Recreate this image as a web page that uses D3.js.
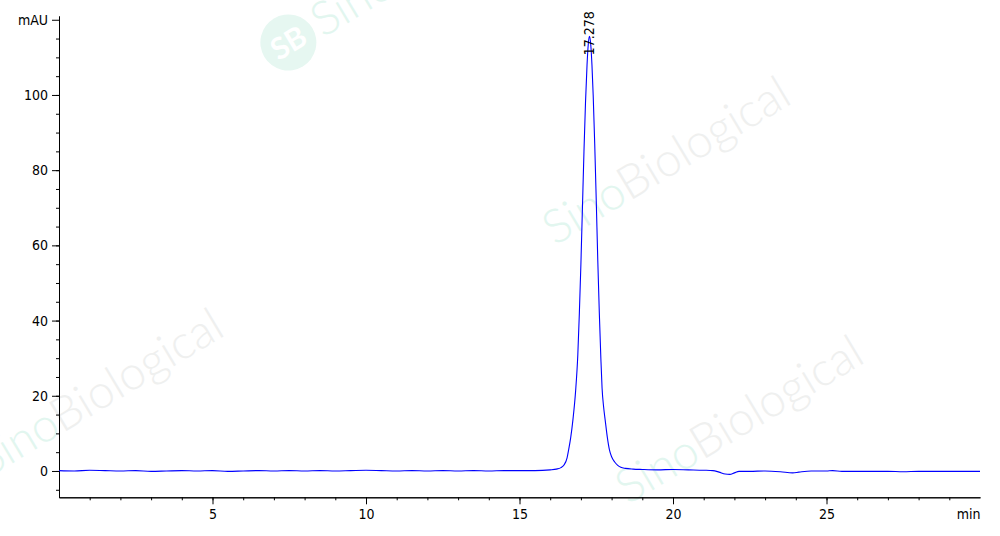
<!DOCTYPE html>
<html>
<head>
<meta charset="utf-8">
<script src="https://cdn.jsdelivr.net/npm/d3@7/dist/d3.min.js"></script>
<style>
  body { margin: 0; background: #fff; }
  svg { display: block; }
  .axis text { font-family: "DejaVu Sans Condensed", "DejaVu Sans", sans-serif; font-stretch: condensed; font-size: 14px; fill: #000; }
  .axis path, .axis line { stroke: #000; }
</style>
</head>
<body>
<div id="chart"></div>
<script>
// retention time (min) and absorbance (mAU)
const times = [0, 0.5, 1, 1.5, 2, 2.5, 3, 3.5, 4, 4.5, 5, 5.5, 6, 6.5, 7, 7.5, 8, 8.5, 9, 9.5,
  10, 10.5, 11, 11.5, 12, 12.5, 13, 13.5, 14, 14.5, 15, 15.5, 16, 16.2, 16.35, 16.45, 16.55, 16.6,
  16.67, 16.74, 16.83, 16.9, 16.95, 17, 17.05, 17.1, 17.15, 17.2, 17.24, 17.278, 17.32, 17.36,
  17.4, 17.45, 17.5, 17.55, 17.6, 17.65, 17.69, 17.74, 17.79, 17.86, 17.93, 18, 18.1, 18.2, 18.3,
  18.45, 18.7, 19, 19.5, 20, 20.5, 21, 21.3, 21.5, 21.7, 21.85, 22, 22.15, 22.5, 23, 23.5, 23.9,
  24.1, 24.5, 25, 25.2, 25.5, 26, 26.5, 27, 27.5, 28, 28.5, 29, 29.5, 30];
const mAU = [0.1, 0.0, 0.2, 0.1, 0.0, 0.1, -0.1, 0.0, 0.1, 0.0, 0.1, -0.1, 0.0, 0.1, 0.0, 0.1, 0.0, 0.1, 0.0, 0.1,
  0.2, 0.1, 0.0, 0.1, 0.0, 0.1, 0.0, 0.1, 0.0, 0.1, 0.1, 0.1, 0.3, 0.5, 0.9, 1.6, 3.5, 5.6,
  9, 13.6, 21.5, 31, 42, 55, 70, 85, 98, 108, 113.5, 115.6, 113.5, 108,
  100, 87, 72, 56, 42, 30, 22, 17, 13.6, 9, 5.6, 3.8, 2.4, 1.5, 1.0,
  0.7, 0.5, 0.4, 0.3, 0.4, 0.3, 0.2, 0.1, -0.3, -0.8, -0.9, -0.5, -0.1, -0.1, 0.0, -0.2, -0.5,
  -0.3, 0.0, 0.0, 0.1, -0.1, -0.1, -0.1, -0.1, -0.2, -0.1, -0.1, -0.1, -0.1, -0.1];

const peakTime = 17.278;
const peakHeight = 115.6;

const yMajor = [0, 20, 40, 60, 80, 100, 120];
const yMinor = d3.range(-5, 120, 5);
const xMajor = [5, 10, 15, 20, 25, 30];
const xMinor = d3.range(1, 30, 1);

const width = 1000;
const height = 536;

const svg = d3.select('#chart')
  .append('svg')
  .attr('width', width)
  .attr('height', height);

const x = d3.scaleLinear().domain([0, 30]).range([59, 980]);
const y = d3.scaleLinear().domain([-7, 121]).range([497.3, 16]);

// watermarks
const wm = svg.append('g').attr('class', 'watermarks');
function watermark(px, py, logo) {
  const g = wm.append('g').attr('transform', `translate(${px},${py}) rotate(-31)`);
  if (logo) {
    g.append('circle').attr('cx', -32).attr('cy', -14).attr('r', 28).attr('fill', '#e6f7f1');
    g.append('text').attr('x', -32).attr('y', -3)
      .attr('text-anchor', 'middle')
      .style('font-family', 'Lato, sans-serif').style('font-size', '30px').style('font-weight', 700)
      .attr('fill', '#ffffff').text('SB');
  }
  const t = g.append('text')
    .style('font-family', 'Lato, "Noto Sans", sans-serif')
    .style('font-size', '47px')
    .style('font-weight', 300);
  t.append('tspan').attr('fill', '#e2f6ef').text('Sino');
  t.append('tspan').attr('fill', '#eff0ef').text('Biological');
}
watermark(323, 38, true);
watermark(555, 246, false);
watermark(-12, 478, false);
watermark(628, 505, false);

// y axis
svg.append('g')
  .attr('class', 'axis')
  .attr('transform', `translate(${x(0)},0)`)
  .call(d3.axisLeft(y).tickValues(yMinor).tickSize(3).tickSizeOuter(0).tickFormat(''));

svg.append('g')
  .attr('class', 'axis')
  .attr('transform', `translate(${x(0)},0)`)
  .call(d3.axisLeft(y).tickValues(yMajor).tickSize(7).tickSizeOuter(0).tickPadding(4)
    .tickFormat(d => d === 120 ? 'mAU' : d));

// x axis
svg.append('g')
  .attr('class', 'axis')
  .attr('transform', `translate(0,${y(-7)})`)
  .call(d3.axisBottom(x).tickValues(xMinor).tickSize(3).tickSizeOuter(0).tickFormat(''));

const xAxis = svg.append('g')
  .attr('class', 'axis')
  .attr('transform', `translate(0,${y(-7)})`)
  .call(d3.axisBottom(x).tickValues(xMajor).tickSize(7).tickSizeOuter(0).tickPadding(5)
    .tickFormat(d => d === 30 ? 'min' : d));

xAxis.selectAll('.tick').filter(d => d === 30).select('line').remove();
xAxis.selectAll('.tick').filter(d => d === 30).select('text').attr('text-anchor', 'end');

// trace
const line = d3.line()
  .x((d, i) => x(times[i]))
  .y((d, i) => y(mAU[i]))
  .curve(d3.curveMonotoneX);

svg.append('path')
  .datum(times)
  .attr('d', line)
  .attr('fill', 'none')
  .attr('stroke', '#0000ff')
  .attr('stroke-width', 1.1);

// peak label
svg.append('text')
  .attr('transform', `translate(${x(peakTime) + 5},${y(peakHeight) + 19}) rotate(-90)`)
  .style('font-family', '"DejaVu Sans Condensed", "DejaVu Sans", sans-serif')
  .style('font-stretch', 'condensed')
  .style('font-size', '14px')
  .text(peakTime.toFixed(3));
</script>
</body>
</html>
